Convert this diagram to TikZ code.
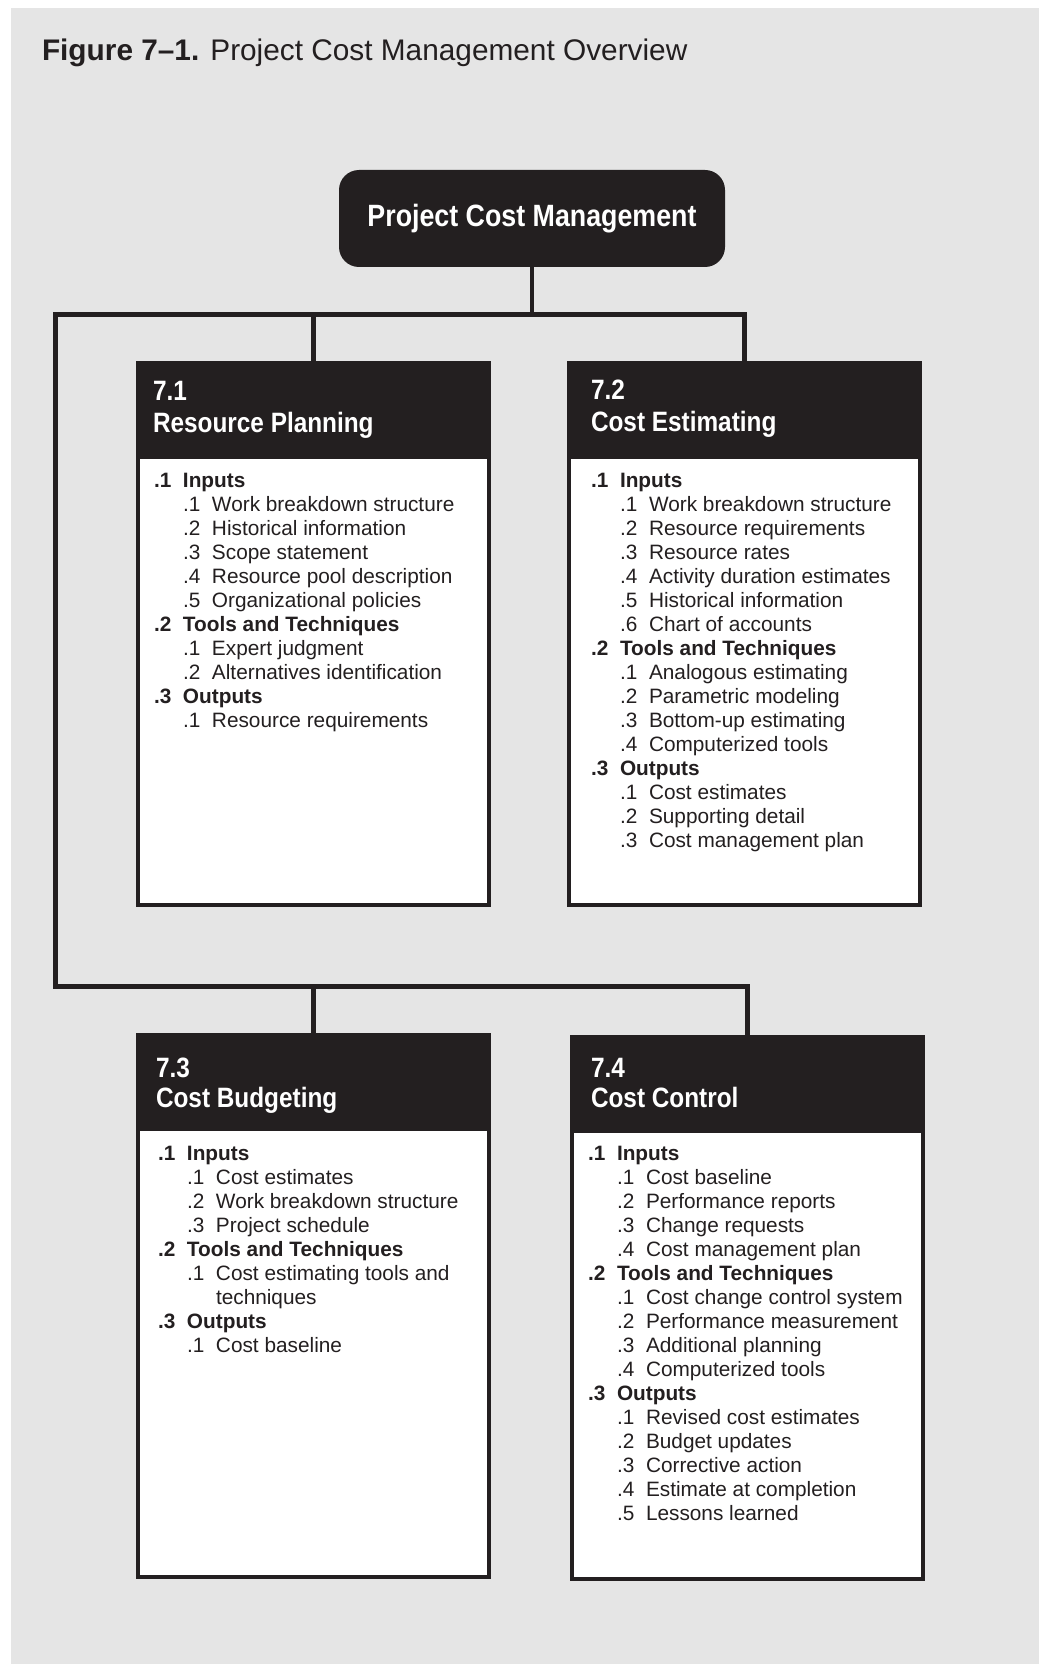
\documentclass[tikz,border=0pt]{standalone}
\usepackage{fontspec}
\setmainfont{Liberation Sans}
\newfontfamily\condfont[FakeStretch=0.87]{Liberation Sans}
\usepackage{tikz}
\usetikzlibrary{positioning, calc}
\usepackage{xcolor}
\definecolor{ink}{HTML}{231F20}
\definecolor{paper}{HTML}{E5E5E5}

\newcommand{\plist}[1]{\begin{tabular}[t]{@{}l@{}}#1\end{tabular}}
\newcommand{\pgroup}[2]{\makebox[14.5pt][l]{\textbf{#1}}\textbf{#2}}
\newcommand{\pitem}[2]{\hspace*{14.5pt}\makebox[14.5pt][l]{#1}#2}
\newcommand{\pcont}[1]{\hspace*{29pt}#1}

\begin{document}
\begin{tikzpicture}[
        x=0.5pt, y=-0.5pt,
        every node/.style={inner sep=0pt, outer sep=0pt},
        rootblock/.style={fill=ink, rounded corners=10pt, minimum width=193pt, minimum height=48.5pt, text=white, font=\condfont\bfseries\fontsize{15.4}{18}\selectfont},
        stage/.style={draw=ink, line width=2pt, outer sep=1pt, fill=white, minimum width=175.5pt, minimum height=271pt, anchor=north west},
        headbar/.style={fill=ink, minimum width=177.5pt, minimum height=49pt, anchor=north west},
        headtext/.style={text=white, anchor=base west, font=\condfont\bfseries\fontsize{14}{16}\selectfont},
        itemlist/.style={anchor=base west, text=ink, font=\fontsize{10.4}{12}\selectfont},
        wire/.style={draw=ink, line width=2.25pt}
    ]
    \fill[white] (0,0) rectangle (1039,1664);
    \fill[paper] (11,8) rectangle (1039,1664);
    \useasboundingbox (0,0) rectangle (1039,1664);

    % caption
    \node[anchor=base west, text=ink, font=\fontsize{14.9}{18}\selectfont] (caption) at (42,61)
        {\textbf{Figure 7–1.} Project Cost Management Overview};

    % root
    \node[rootblock] (pcm) at (532,218.5) {Project Cost Management};

    % the four processes
    \node[stage] (rp) at (136,361) {};
    \node[headbar] (rphead) at (rp.north west) {};
    \node[headtext] (rpnum) at ($(rp.north west)+(17,39)$) {7.1};
    \node[headtext] (rpname) at ($(rp.north west)+(17,71)$) {Resource Planning};
    \node[itemlist] (rplist) at ($(rp.north west)+(18,126)$) {\plist{%
        \pgroup{.1}{Inputs}\\
        \pitem{.1}{Work breakdown structure}\\
        \pitem{.2}{Historical information}\\
        \pitem{.3}{Scope statement}\\
        \pitem{.4}{Resource pool description}\\
        \pitem{.5}{Organizational policies}\\
        \pgroup{.2}{Tools and Techniques}\\
        \pitem{.1}{Expert judgment}\\
        \pitem{.2}{Alternatives identification}\\
        \pgroup{.3}{Outputs}\\
        \pitem{.1}{Resource requirements}}};

    \node[stage] (ce) at (567,361) {};
    \node[headbar] (cehead) at (ce.north west) {};
    \node[headtext] (cenum) at ($(ce.north west)+(24,38)$) {7.2};
    \node[headtext] (cename) at ($(ce.north west)+(24,70)$) {Cost Estimating};
    \node[itemlist] (celist) at ($(ce.north west)+(24,126)$) {\plist{%
        \pgroup{.1}{Inputs}\\
        \pitem{.1}{Work breakdown structure}\\
        \pitem{.2}{Resource requirements}\\
        \pitem{.3}{Resource rates}\\
        \pitem{.4}{Activity duration estimates}\\
        \pitem{.5}{Historical information}\\
        \pitem{.6}{Chart of accounts}\\
        \pgroup{.2}{Tools and Techniques}\\
        \pitem{.1}{Analogous estimating}\\
        \pitem{.2}{Parametric modeling}\\
        \pitem{.3}{Bottom-up estimating}\\
        \pitem{.4}{Computerized tools}\\
        \pgroup{.3}{Outputs}\\
        \pitem{.1}{Cost estimates}\\
        \pitem{.2}{Supporting detail}\\
        \pitem{.3}{Cost management plan}}};

    \node[stage] (cb) at (136,1033) {};
    \node[headbar] (cbhead) at (cb.north west) {};
    \node[headtext] (cbnum) at ($(cb.north west)+(20,44)$) {7.3};
    \node[headtext] (cbname) at ($(cb.north west)+(20,74)$) {Cost Budgeting};
    \node[itemlist] (cblist) at ($(cb.north west)+(22,127)$) {\plist{%
        \pgroup{.1}{Inputs}\\
        \pitem{.1}{Cost estimates}\\
        \pitem{.2}{Work breakdown structure}\\
        \pitem{.3}{Project schedule}\\
        \pgroup{.2}{Tools and Techniques}\\
        \pitem{.1}{Cost estimating tools and}\\
        \pcont{techniques}\\
        \pgroup{.3}{Outputs}\\
        \pitem{.1}{Cost baseline}}};

    \node[stage] (cc) at (570,1035) {};
    \node[headbar] (cchead) at (cc.north west) {};
    \node[headtext] (ccnum) at ($(cc.north west)+(21,42)$) {7.4};
    \node[headtext] (ccname) at ($(cc.north west)+(21,72)$) {Cost Control};
    \node[itemlist] (cclist) at ($(cc.north west)+(18,125)$) {\plist{%
        \pgroup{.1}{Inputs}\\
        \pitem{.1}{Cost baseline}\\
        \pitem{.2}{Performance reports}\\
        \pitem{.3}{Change requests}\\
        \pitem{.4}{Cost management plan}\\
        \pgroup{.2}{Tools and Techniques}\\
        \pitem{.1}{Cost change control system}\\
        \pitem{.2}{Performance measurement}\\
        \pitem{.3}{Additional planning}\\
        \pitem{.4}{Computerized tools}\\
        \pgroup{.3}{Outputs}\\
        \pitem{.1}{Revised cost estimates}\\
        \pitem{.2}{Budget updates}\\
        \pitem{.3}{Corrective action}\\
        \pitem{.4}{Estimate at completion}\\
        \pitem{.5}{Lessons learned}}};

    % tree lines
    \coordinate (busA) at (55.5,314.5);
    \coordinate (busB) at (55.5,986.5);
    \draw[wire] (pcm.south) -- (pcm.south |- busA);
    \draw[wire] (rp.north) -- (rp.north |- busA);
    \draw[wire] (ce.north) |- (busA) -- (busB) -| (cc.north);
    \draw[wire] (cb.north) -- (cb.north |- busB);
\end{tikzpicture}
\end{document}
